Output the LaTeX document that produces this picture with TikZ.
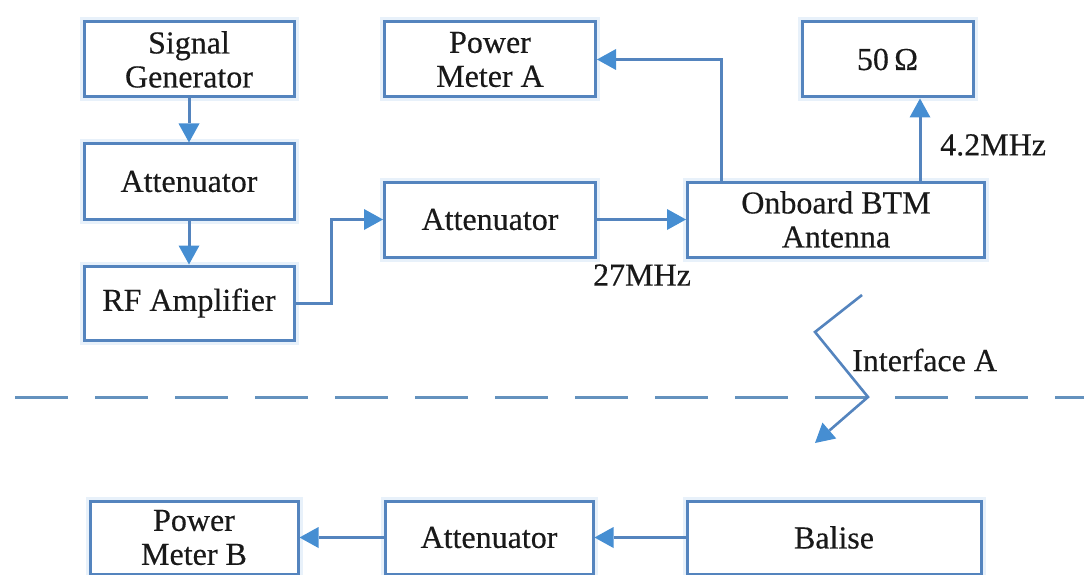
\documentclass[tikz,border=0pt]{standalone}
\usepackage{fontspec}
\setmainfont{Liberation Serif}
\newfontface\labelface{Liberation Serif}[FakeBold=0.35]
\usetikzlibrary{arrows.meta}
\definecolor{edgeblue}{RGB}{84,132,190}
\definecolor{tipblue}{RGB}{70,142,210}
\definecolor{haze}{RGB}{232,241,250}
\definecolor{dashblue}{RGB}{100,146,190}
\definecolor{ink}{RGB}{25,25,25}
\tikzset{
  blk/.style={draw=edgeblue, line width=3pt, fill=white,
    preaction={draw=haze, line width=9pt},
    align=center, inner sep=0pt, text=ink,
    font=\labelface\fontsize{32}{34}\selectfont},
  link/.style={draw=edgeblue, line width=3pt,
    -{Triangle[length=19pt,width=21pt,fill=tipblue,line width=0pt]}},
  lbl/.style={font=\labelface\fontsize{32}{34}\selectfont, inner sep=0pt, text=ink},
  divider/.style={draw=dashblue, line width=3pt, dash pattern=on 53pt off 27pt},
}
\begin{document}
\begin{tikzpicture}[x=1pt,y=-1pt]
\useasboundingbox (0,0) rectangle (1084,575);

% transmitter chain
\node[blk, minimum width=210pt, minimum height=75pt] (sg)   at (189,59.5)  {Signal\\Generator};
\node[blk, minimum width=210pt, minimum height=75pt] (att1) at (189,181.5) {Attenuator};
\node[blk, minimum width=210pt, minimum height=74pt] (rf)   at (189,303)   {RF Amplifier};
\node[blk, minimum width=211pt, minimum height=75pt] (att2) at (490,219.5) {Attenuator};
\node[blk, minimum width=297pt, minimum height=75pt] (btm)  at (836,219.5) {Onboard BTM\\Antenna};
\node[blk, minimum width=211pt, minimum height=75pt] (pma)  at (490,59.5)  {Power\\Meter A};
\node[blk, minimum width=171pt, minimum height=75pt] (ohm)  at (887.5,59.5) {50\,Ω};

% receiver chain
\node[blk, minimum width=208pt, minimum height=73pt] (pmb)  at (194,537.5) {Power\\Meter B};
\node[blk, minimum width=208pt, minimum height=73pt] (att3) at (489,537.5) {Attenuator};
\node[blk, minimum width=294pt, minimum height=73pt] (bal)  at (834,537.5) {Balise};

% frequency labels
\node[lbl, anchor=west] (f42) at (940,145) {4.2MHz};
\node[lbl] (f27) at (642,275) {27MHz};

% connectors
\draw[link] (sg) -- (att1);
\draw[link] (att1) -- (rf);
\draw[link] (rf.east) -- ++(36,0) |- (att2.west);
\draw[link] (att2) -- (btm);
\draw[link] ([xshift=35.5pt]btm.north west) |- (pma.east);
\draw[link] ([xshift=84pt]btm.north) -- ([xshift=32.5pt]ohm.south);
\draw[link] (bal) -- (att3);
\draw[link] (att3) -- (pmb);

% interface boundary
\coordinate (dl) at (15,397);
\coordinate (dr) at (1084,397);
\draw[divider] (dl) -- (dr);

\coordinate (z0) at (862,295);
\coordinate (z1) at (815,332);
\coordinate (z2) at (868,397);
\coordinate (z3) at (815,443);
\draw[link, line width=2.6pt, line join=miter] (z0) -- (z1) -- (z2) -- (z3);
\node[lbl, anchor=west] (ifa) at (852,360) {Interface A};
\end{tikzpicture}
\end{document}
